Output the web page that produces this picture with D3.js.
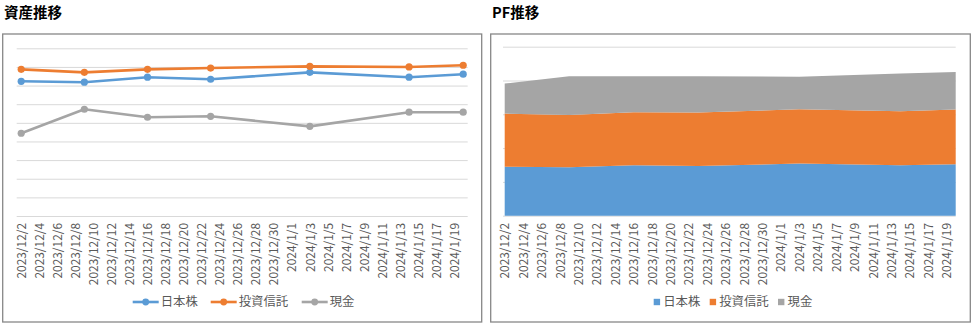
<!DOCTYPE html>
<html>
<head>
<meta charset="utf-8">
<script src="https://cdn.jsdelivr.net/npm/d3@7"></script>
<style>
  html, body { margin: 0; padding: 0; background: #fff; }
  svg { display: block; font-family: "Noto Sans CJK JP", "Noto Sans", sans-serif; }
</style>
</head>
<body>
<svg id="chart" width="975" height="323"></svg>
<script>
// Valuation dates
const dates = ["2023/12/2", "2023/12/9", "2023/12/16", "2023/12/23", "2024/1/3", "2024/1/14", "2024/1/20"];
// Asset values (yen) per category
const japanStocks = [1446000, 1436000, 1490000, 1468000, 1542000, 1490000, 1522000];
const investmentTrusts = [1574000, 1542000, 1574000, 1588000, 1606000, 1600000, 1618000];
const cash = [888000, 1146000, 1060000, 1070000, 962000, 1114000, 1114000];
// Series names and colours
const seriesNames = ["日本株", "投資信託", "現金"];
const seriesColors = ["#5B9BD5", "#ED7D31", "#A5A5A5"];
// Category axis labels (every second day)
const tickLabels = ["2023/12/2", "2023/12/4", "2023/12/6", "2023/12/8", "2023/12/10", "2023/12/12",
  "2023/12/14", "2023/12/16", "2023/12/18", "2023/12/20", "2023/12/22", "2023/12/24", "2023/12/26",
  "2023/12/28", "2023/12/30", "2024/1/1", "2024/1/3", "2024/1/5", "2024/1/7", "2024/1/9",
  "2024/1/11", "2024/1/13", "2024/1/15", "2024/1/17", "2024/1/19"];
const chartTitles = ["資産推移", "PF推移"];

const parse = d3.timeParse("%Y/%m/%d");
const fmt = d3.timeFormat("%Y/%-m/%-d");
const dateObjs = dates.map(parse);
const tickDates = tickLabels.map(parse);
const seriesValues = [japanStocks, investmentTrusts, cash];

const svg = d3.select("#chart");
svg.append("rect").attr("width", 975).attr("height", 323).attr("fill", "#fff");

const textColor = "#595959";
const gridColor = "#d9d9d9";

// ---------- shared pieces ----------
function frame(x, y, w, h) {
  svg.append("rect").attr("x", x).attr("y", y).attr("width", w).attr("height", h)
    .attr("fill", "none").attr("stroke", "#878787").attr("stroke-width", 1.3);
}
function title(x, text) {
  svg.append("text").attr("x", x).attr("y", 17.5).text(text)
    .attr("font-size", 14.5).attr("font-weight", "bold").attr("fill", "#000");
}
function grid(g, y, x0, x1, ticks) {
  g.append("g").attr("transform", `translate(${x0},0)`)
    .call(d3.axisLeft(y).tickValues(ticks).tickSize(-(x1 - x0)).tickFormat(""))
    .call(s => s.select(".domain").remove())
    .call(s => s.selectAll("line").attr("stroke", gridColor).attr("stroke-width", 1));
}
function dateAxis(g, x, top) {
  g.append("g").attr("transform", `translate(0,${top})`)
    .call(d3.axisBottom(x).tickValues(tickDates).tickSize(0).tickFormat(fmt))
    .call(s => s.select(".domain").remove())
    .call(s => s.selectAll("text")
      .attr("transform", "rotate(-90)")
      .attr("x", 0).attr("y", 0).attr("dy", "0.35em")
      .style("text-anchor", "end")
      .attr("fill", textColor)
      .attr("font-size", 11.9)
      .attr("font-family", "\"Noto Sans CJK JP\", sans-serif"));
}

// ---------- left: line chart ----------
frame(2.7, 34, 479, 288);
title(4, chartTitles[0]);
{
  const g = svg.append("g");
  const x0 = 16.7, x1 = 467.7;
  const x = d3.scaleTime()
    .domain([d3.timeHour.offset(dateObjs[0], -12), d3.timeHour.offset(dateObjs[dateObjs.length - 1], 12)])
    .range([x0, x1]);
  const y = d3.scaleLinear().domain([0, 1800000]).range([216, 48.3]);
  grid(g, y, x0, x1, d3.range(0, 1800001, 200000));
  dateAxis(g, x, 223);

  const line = d3.line().x((d, i) => x(dateObjs[i])).y(d => y(d));
  seriesValues.forEach((vals, k) => {
    g.append("path").datum(vals).attr("d", line)
      .attr("fill", "none").attr("stroke", seriesColors[k])
      .attr("stroke-width", 2.6).attr("stroke-linejoin", "round").attr("stroke-linecap", "round");
    g.selectAll(null).data(vals).join("circle")
      .attr("cx", (d, i) => x(dateObjs[i])).attr("cy", d => y(d)).attr("r", 3.6)
      .attr("fill", seriesColors[k]);
  });

  // legend
  const lg = g.append("g").attr("transform", "translate(0,302)");
  const legendX = [132.7, 210.7, 301.7];
  seriesNames.forEach((name, k) => {
    const lx = legendX[k];
    lg.append("line").attr("x1", lx).attr("x2", lx + 26).attr("y1", 0).attr("y2", 0)
      .attr("stroke", seriesColors[k]).attr("stroke-width", 2.6);
    lg.append("circle").attr("cx", lx + 13).attr("cy", 0).attr("r", 3.4).attr("fill", seriesColors[k]);
    lg.append("text").attr("x", lx + 28).attr("y", 0).attr("dy", "0.36em")
      .attr("font-size", 12.4).attr("fill", textColor).text(name);
  });
}

// ---------- right: stacked area chart ----------
frame(490.7, 34, 479.6, 288);
title(492, chartTitles[1]);
{
  const g = svg.append("g");
  const x0 = 504.7, x1 = 955.7;
  const x = d3.scaleTime().domain([dateObjs[0], dateObjs[dateObjs.length - 1]]).range([x0, x1]);
  const y = d3.scaleLinear().domain([0, 5000000]).range([215.7, 46.7]);
  grid(g, y, x0 - 1.7, x1, d3.range(0, 5000001, 1000000));

  const rows = dates.map((d, i) => ({ i, s0: japanStocks[i], s1: investmentTrusts[i], s2: cash[i] }));
  const stacked = d3.stack().keys(["s0", "s1", "s2"])(rows);
  const area = d3.area()
    .x(d => x(dateObjs[d.data.i]))
    .y0(d => y(d[0])).y1(d => y(d[1]));
  g.selectAll(null).data(stacked).join("path")
    .attr("d", area).attr("fill", (d, k) => seriesColors[k]);

  dateAxis(g, x, 223);

  // legend
  const lg = g.append("g").attr("transform", "translate(0,302)");
  const legendX = [653.7, 709.7, 778];
  seriesNames.forEach((name, k) => {
    const lx = legendX[k];
    lg.append("rect").attr("x", lx).attr("y", -3.2).attr("width", 6.4).attr("height", 6.4)
      .attr("fill", seriesColors[k]);
    lg.append("text").attr("x", lx + 9.5).attr("y", 0).attr("dy", "0.36em")
      .attr("font-size", 12.4).attr("fill", textColor).text(name);
  });
}
</script>
</body>
</html>
